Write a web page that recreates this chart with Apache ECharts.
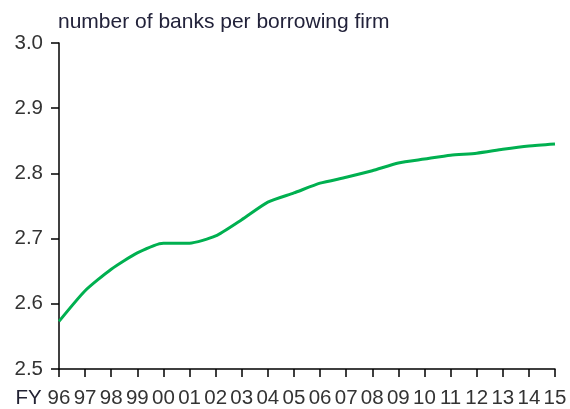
<!DOCTYPE html>
<html>
<head>
<meta charset="utf-8">
<script src="https://cdn.jsdelivr.net/npm/echarts@6/dist/echarts.min.js"></script>
<style>
  html, body { margin: 0; padding: 0; background: #fff; }
  #chart { width: 570px; height: 409px; }
</style>
</head>
<body>
<div id="chart"></div>
<script>
// fiscal years (FY96 .. FY15)
const years = ['96', '97', '98', '99', '00', '01', '02', '03', '04', '05',
  '06', '07', '08', '09', '10', '11', '12', '13', '14', '15'];
// number of banks per borrowing firm
const banksPerFirm = [2.573, 2.620, 2.653, 2.678, 2.693, 2.693, 2.704, 2.729, 2.756, 2.770,
  2.785, 2.794, 2.804, 2.816, 2.822, 2.828, 2.831, 2.837, 2.842, 2.845];

const chart = echarts.init(document.getElementById('chart'));

const font = 'Arial, "Liberation Sans", sans-serif';

chart.setOption({
  animation: false,
  title: {
    text: 'number of banks per borrowing firm',
    left: 53,
    top: 7,
    textStyle: { fontFamily: font, fontSize: 21, fontWeight: 'normal', color: '#22223a' }
  },
  grid: { left: 59, right: 15, top: 43, bottom: 40 },
  xAxis: {
    type: 'category',
    data: years,
    boundaryGap: false,
    name: 'FY',
    nameLocation: 'start',
    nameGap: 16,
    nameTextStyle: {
      fontFamily: font, fontSize: 20.5, color: '#223',
      verticalAlign: 'top', padding: [19, 0, 0, 0]
    },
    axisLine: { lineStyle: { color: '#000', width: 1.5 } },
    axisTick: { show: true, length: 8, interval: 0, alignWithLabel: true, lineStyle: { color: '#000', width: 1.5 } },
    axisLabel: { interval: 0, margin: 19, fontFamily: font, fontSize: 20.5, color: '#333' },
    splitLine: { show: false }
  },
  yAxis: {
    type: 'value',
    min: 2.5,
    max: 3.0,
    interval: 0.1,
    axisLine: { show: true, lineStyle: { color: '#000', width: 1.5 } },
    axisTick: { show: true, length: 8, lineStyle: { color: '#000', width: 1.5 } },
    axisLabel: {
      margin: 16, fontFamily: font, fontSize: 20.5, color: '#333',
      formatter: v => v.toFixed(1)
    },
    splitLine: { show: false }
  },
  series: [{
    type: 'line',
    data: banksPerFirm,
    smooth: 0.2,
    symbol: 'none',
    lineStyle: { color: '#00b050', width: 3 }
  }]
});
</script>
</body>
</html>
